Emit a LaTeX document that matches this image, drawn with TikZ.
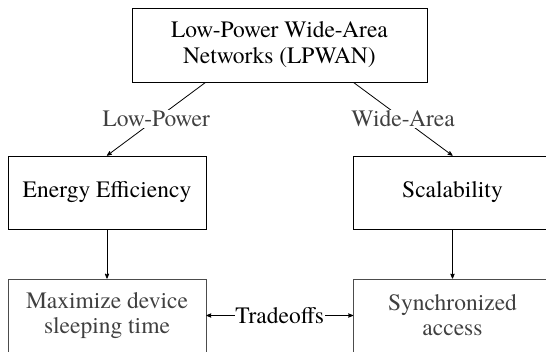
\documentclass[tikz,border=0pt]{standalone}
\usepackage{fontspec}
\setmainfont{TeX Gyre Termes}
\usetikzlibrary{arrows}
\usetikzlibrary{calc}

\begin{document}
\begin{tikzpicture}[x=1pt,y=-1pt,>=stealth']
	\tikzstyle{racine}=[rectangle,draw,line width=0.8pt,minimum width=295pt,minimum height=74pt,align=center,font=\fontsize{23.5}{26}\selectfont]
	\tikzstyle{critere}=[rectangle,draw,line width=0.8pt,minimum width=198pt,minimum height=73pt,font=\fontsize{23.5}{26}\selectfont]
	\tikzstyle{objectif}=[rectangle,draw=black!70,line width=0.8pt,text=black!75,minimum width=198pt,minimum height=73pt,align=center,font=\fontsize{23.5}{25}\selectfont]
	\tikzstyle{etiquette}=[fill=white,inner sep=1pt,text=black!75,font=\fontsize{23.5}{26}\selectfont]
	\useasboundingbox (0,0) rectangle (546,351);
	\node[racine] (lpwan) at (279.5,45){Low-Power Wide-Area\\Networks (LPWAN)};
	\node[critere] (energy) at (107,192.5){Energy Efficiency};
	\node[critere] (scal) at (452.5,192.5){Scalability};
	\node[objectif] (sleep) at (107,315.5){Maximize device\\sleeping time};
	\node[objectif] (sync) at (452.5,315.5){Synchronized\\access};
	\coordinate (pL) at ($(lpwan.south)!0.5!(lpwan.south west)$);
	\coordinate (pR) at ($(lpwan.south)!0.5!(lpwan.south east)$);
	\draw[->,line width=0.8pt] (pL) -- node[etiquette]{Low-Power} (energy.north);
	\draw[->,line width=0.8pt] (pR) -- node[etiquette]{Wide-Area} (scal.north);
	\draw[->,line width=0.8pt] (energy) -- (sleep);
	\draw[->,line width=0.8pt] (scal) -- (sync);
	\draw[<->,line width=0.8pt] (sleep) -- node[fill=white,inner sep=0.5pt,font=\fontsize{23.5}{26}\selectfont]{Tradeoffs} (sync);
\end{tikzpicture}
\end{document}
